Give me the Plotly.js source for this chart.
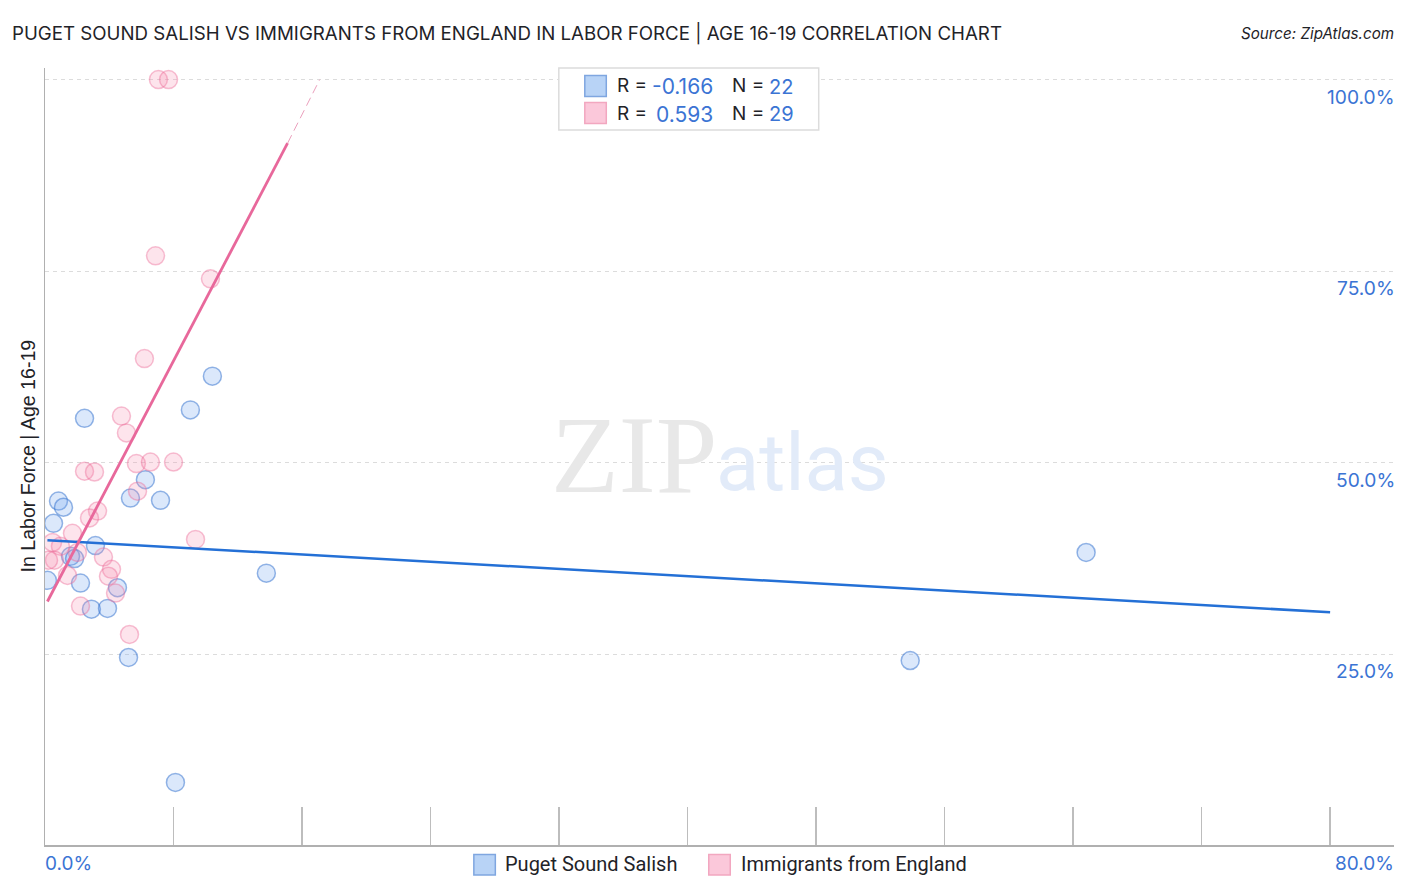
<!DOCTYPE html>
<html><head><meta charset="utf-8">
<script src="https://cdn.plot.ly/plotly-3.0.1.min.js"></script>
<style>html,body{margin:0;padding:0;background:#fff}#c{width:1406px;height:892px}</style>
</head><body><div id="c"></div>
<script>
const blueX=[0.15,0.53,0.84,1.15,1.59,1.84,2.21,2.46,2.89,3.14,3.89,4.51,5.2,5.32,6.25,7.19,8.12,9.05,10.42,13.78,53.86,64.81];
const blueY=[34.66,42.1,45.0,44.2,37.8,37.5,34.3,55.8,30.9,39.2,31.0,33.7,24.6,45.4,47.8,45.1,8.3,56.9,61.3,35.6,24.2,38.3];
const pinkX=[7.06,7.69,6.88,10.3,6.19,4.76,5.07,2.46,3.08,5.69,6.56,8.0,5.76,3.27,2.77,9.37,1.71,0.47,0.96,0.59,0.22,2.02,1.4,3.64,4.14,3.95,4.39,2.21,5.26];
const pinkY=[100,100,77.0,74.0,63.6,56.1,53.9,48.9,48.8,49.9,50.1,50.1,46.3,43.7,42.8,40.0,40.8,39.6,39.1,37.3,37.3,38.3,35.3,37.7,36.1,35.2,33.0,31.3,27.6];
const blueTrendX=[0.15,80], blueTrendY=[39.9,30.5];
const pinkTrendX=[0.15,15.1], pinkTrendY=[31.9,91.7];
const pinkDashX=[15.1,17.1], pinkDashY=[91.7,100];
const yTicks=[25,50,75,100], yLabels=['25.0%','50.0%','75.0%','100.0%'];
const xTicks=[0,8,16,24,32,40,48,56,64,72,80];

const W=1406,H=892,L=44.5,R=1394,T=68,B=845;
const TXT='#1f2328',BLUE='#3b74d4',SANS='Inter, "Open Sans", sans-serif',ROB='Roboto, sans-serif';
const px=v=>(v-L)/(R-L), py=v=>(B-v)/(B-T);
function label(x,y,text,o={}){return Object.assign({xref:'paper',yref:'paper',x:px(x),y:py(y),text,showarrow:false,xanchor:'left',yanchor:'middle',
  font:{family:SANS,size:19,color:TXT},borderpad:0,borderwidth:0},o);}
function box(x0,y0,x1,y1,fill,line){return {type:'rect',xref:'paper',yref:'paper',x0:px(x0),x1:px(x1),y0:py(y0),y1:py(y1),fillcolor:fill,line:{color:line,width:1.5},layer:'above'};}

const mk=(fill,line)=>({size:18,color:fill,line:{color:line,width:1.5}});
const data=[
 {x:blueX,y:blueY,type:'scatter',mode:'markers',name:'Puget Sound Salish',marker:mk('rgba(110,165,240,0.25)','rgba(45,110,205,0.5)')},
 {x:pinkX,y:pinkY,type:'scatter',mode:'markers',name:'Immigrants from England',marker:mk('rgba(245,140,175,0.23)','rgba(235,105,150,0.42)')},
 {x:blueTrendX,y:blueTrendY,type:'scatter',mode:'lines',line:{color:'#2470d6',width:2.5},hoverinfo:'skip'},
 {x:pinkTrendX,y:pinkTrendY,type:'scatter',mode:'lines',line:{color:'#e8689b',width:2.8},hoverinfo:'skip'},
 {x:pinkDashX,y:pinkDashY,type:'scatter',mode:'lines',line:{color:'#eba0bd',width:1,dash:'9px,5px'},hoverinfo:'skip'}
];
const layout={
 width:W,height:H,paper_bgcolor:'#fff',plot_bgcolor:'#fff',showlegend:false,hovermode:false,
 margin:{l:L,r:W-R,t:T,b:H-B,pad:0},
 title:{text:'PUGET SOUND SALISH VS IMMIGRANTS FROM ENGLAND IN LABOR FORCE | AGE 16-19 CORRELATION CHART',
   x:12/W,xanchor:'left',y:1-33/H,yanchor:'middle',font:{family:SANS,size:18.7,color:TXT}},
 xaxis:{range:[0,(R-L)/16.07],tickmode:'array',tickvals:xTicks,ticktext:xTicks.map(()=>''),ticks:'inside',ticklen:38,tickcolor:'#bdbdbd',tickwidth:1.5,
   showgrid:false,zeroline:false,showline:true,linecolor:'#b0b0b0',linewidth:1.5},
 yaxis:{range:[(846-B)/7.664,(846-T)/7.664],tickmode:'array',tickvals:yTicks,ticktext:yLabels.map(()=>''),ticks:'',
   showgrid:true,gridcolor:'#dcdcdc',griddash:'4px,4px',gridwidth:1,zeroline:false,showline:true,linecolor:'#b0b0b0',linewidth:1.5},
 shapes:[
   box(558.5,68,818.5,130,'#fff','#dcdcdc'),
   box(584.5,75.5,606,96.5,'#b8d3f6','#7fa6e0'),
   box(584.5,102.5,606,123.5,'#fbc8da','#f2a7c0'),
   box(473.5,854.5,495,875,'#b8d3f6','#7fa6e0'),
   box(708.5,854.5,730,875,'#fbc8da','#f2a7c0')
 ],
 annotations:[
   label(634,454,'ZIP',{xanchor:'center',font:{family:'"Liberation Serif",serif',size:111,color:'#e8e8e8'}}),
   label(802,463,'atlas',{xanchor:'center',font:{family:ROB,size:79.5,color:'#e2ebf9'}}),
   label(1394,33,'Source: ZipAtlas.com',{xanchor:'right',font:{family:SANS,size:15.2,color:TXT,style:'italic'}}),
   label(27,456,'In Labor Force | Age 16-19',{xanchor:'center',textangle:-90,font:{family:'"Liberation Sans",sans-serif',size:19.6,color:TXT}}),
   label(44.5,863,'0.0%',{font:{family:SANS,size:19,color:BLUE}}),
   label(1394,863,'80.0%',{xanchor:'right',font:{family:SANS,size:19,color:BLUE}}),
   ...yTicks.map((v,i)=>({xref:'paper',yref:'y',x:1,y:v,xshift:2,yshift:-17,text:yLabels[i],showarrow:false,xanchor:'right',yanchor:'middle',borderpad:0,font:{family:SANS,size:19.2,color:BLUE}})),
   label(617,86,'R =',{}),label(617,113,'R =',{}),
   label(713,87,'-0.166',{xanchor:'right',font:{family:SANS,size:21,color:BLUE}}),
   label(713,114,'0.593',{xanchor:'right',font:{family:SANS,size:21,color:BLUE}}),
   label(732,86,'N =',{}),label(732,113,'N =',{}),
   label(769,87,'22',{font:{family:SANS,size:20,color:BLUE}}),
   label(769,114,'29',{font:{family:SANS,size:20,color:BLUE}}),
   label(505,864,'Puget Sound Salish',{font:{family:ROB,size:20,color:TXT}}),
   label(741,864,'Immigrants from England',{font:{family:ROB,size:20,color:TXT}})
 ]
};
Plotly.newPlot('c',data,layout,{displayModeBar:false,staticPlot:true});
</script></body></html>
